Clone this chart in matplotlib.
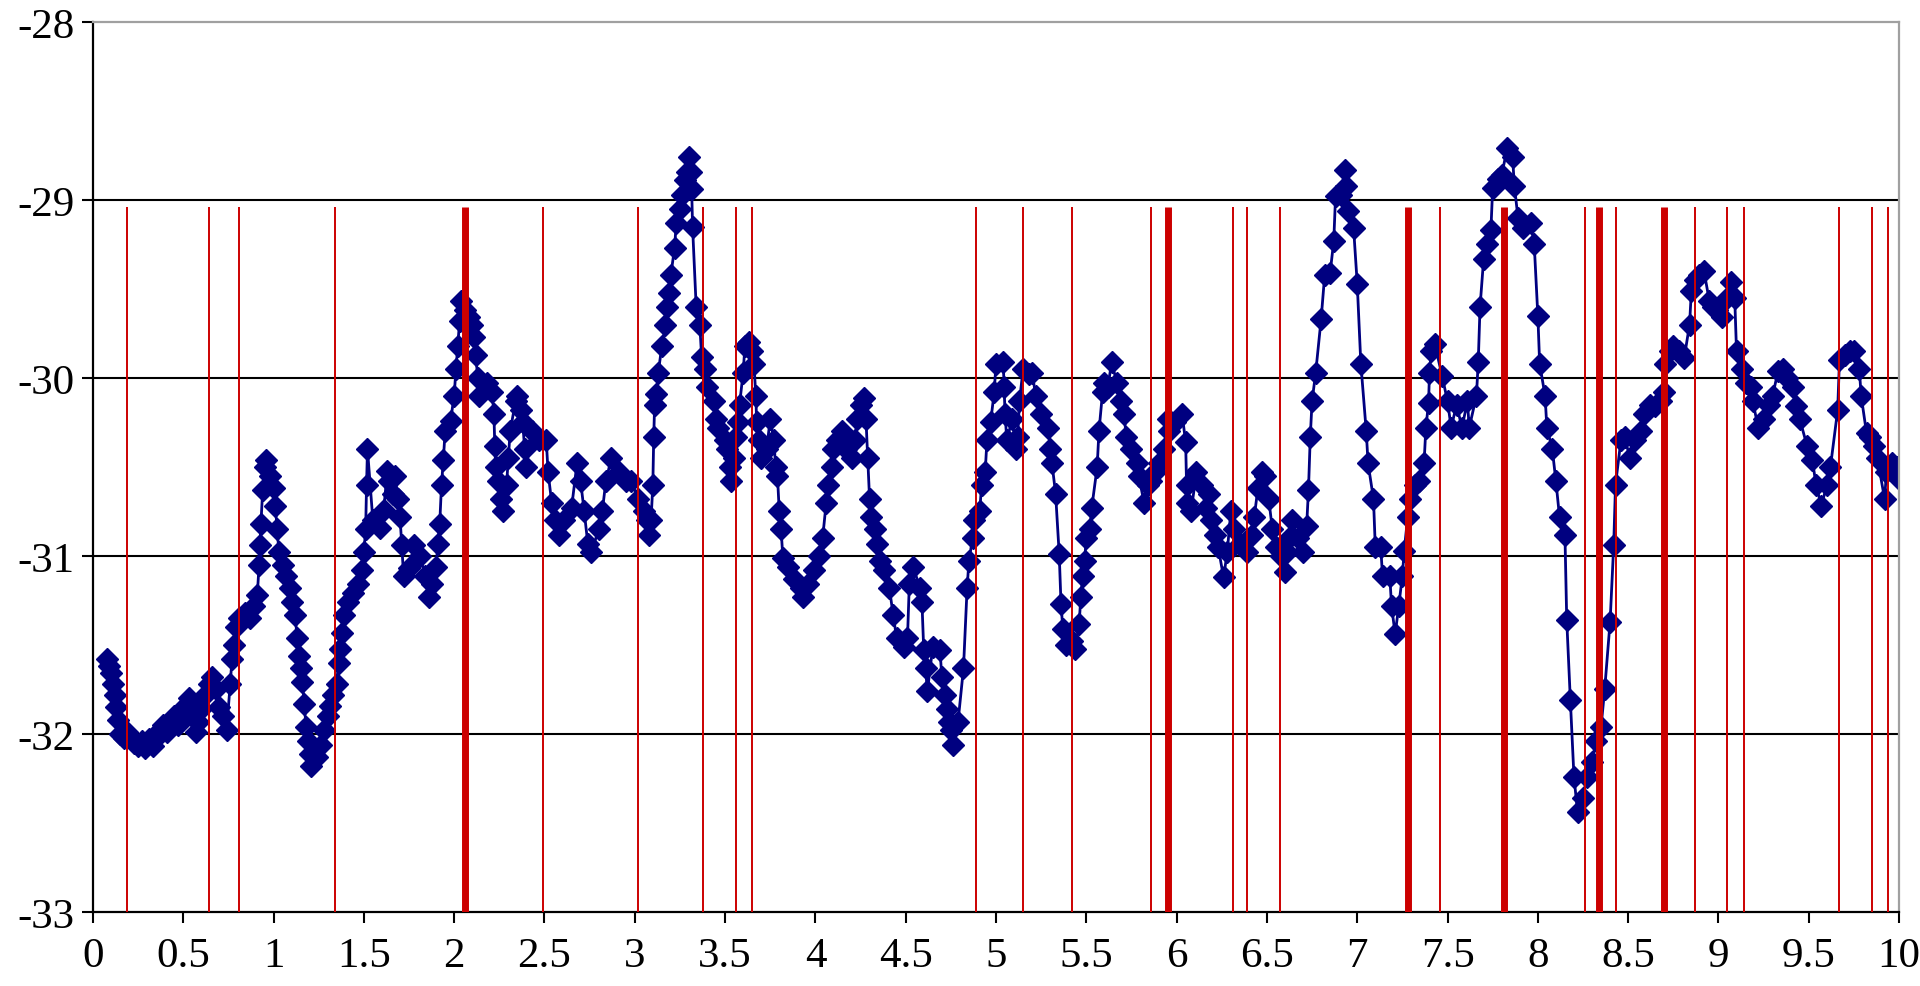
import matplotlib
matplotlib.use("Agg")
import matplotlib.pyplot as plt
from matplotlib.ticker import FuncFormatter

plt.rcParams['font.family'] = ['Liberation Serif', 'DejaVu Serif']
plt.rcParams['axes.unicode_minus'] = False

# measured series
dist = [
    0.08, 0.09, 0.10, 0.11, 0.12, 0.13, 0.14, 0.15, 0.17, 0.19,
    0.21, 0.23, 0.25, 0.27, 0.29, 0.31, 0.33, 0.35, 0.37, 0.39,
    0.41, 0.43, 0.45, 0.47, 0.49, 0.51, 0.53, 0.55, 0.57, 0.58,
    0.60, 0.62, 0.64, 0.66, 0.68, 0.70, 0.72, 0.74, 0.76, 0.77,
    0.78, 0.79, 0.81, 0.84, 0.87, 0.89, 0.91, 0.92, 0.925, 0.93,
    0.94, 0.95, 0.96, 0.98, 1.00, 1.01, 1.02, 1.03, 1.05, 1.07,
    1.09, 1.10, 1.12, 1.13, 1.14, 1.15, 1.16, 1.17, 1.18, 1.19,
    1.20, 1.21, 1.24, 1.26, 1.28, 1.30, 1.31, 1.33, 1.35, 1.36,
    1.37, 1.38, 1.39, 1.41, 1.44, 1.47, 1.49, 1.50, 1.51, 1.515,
    1.52, 1.55, 1.59, 1.61, 1.63, 1.64, 1.66,
    1.67, 1.69, 1.70, 1.71, 1.72, 1.75, 1.78, 1.81, 1.84, 1.86,
    1.88, 1.90, 1.91, 1.92, 1.93, 1.94, 1.95, 1.98, 2.00, 2.01,
    2.02, 2.03, 2.04, 2.06, 2.08, 2.10, 2.11, 2.12, 2.13, 2.14,
    2.18, 2.21, 2.22, 2.225, 2.23, 2.24, 2.26, 2.27, 2.29, 2.30,
    2.31, 2.34, 2.35, 2.37, 2.38, 2.39, 2.40, 2.43, 2.47, 2.51,
    2.52, 2.54, 2.56, 2.58, 2.61, 2.65, 2.68, 2.70, 2.72, 2.74,
    2.76, 2.80, 2.82, 2.84, 2.87, 2.91, 2.95, 2.98, 3.02, 3.05,
    3.07, 3.08, 3.09, 3.10, 3.105, 3.11, 3.12, 3.13, 3.15, 3.17,
    3.18, 3.19, 3.20, 3.22, 3.23, 3.25, 3.26, 3.28, 3.29, 3.30,
    3.31, 3.315, 3.32,
    3.34, 3.36, 3.37, 3.39, 3.40, 3.44, 3.45, 3.46, 3.50, 3.51,
    3.53, 3.535, 3.55, 3.56, 3.57, 3.58, 3.60, 3.61, 3.63, 3.65,
    3.66, 3.67, 3.675, 3.69, 3.70, 3.73, 3.75, 3.77, 3.78, 3.79,
    3.80, 3.81, 3.82, 3.85, 3.88, 3.92, 3.93, 3.96, 3.99, 4.02,
    4.04, 4.06, 4.07, 4.09, 4.10, 4.12, 4.15, 4.17, 4.20, 4.22,
    4.23, 4.25, 4.27, 4.28, 4.29, 4.30, 4.31, 4.33, 4.34, 4.36,
    4.38, 4.41, 4.43, 4.45, 4.49, 4.51, 4.52, 4.54, 4.58, 4.59,
    4.60, 4.61, 4.62, 4.65, 4.69, 4.70, 4.72, 4.73, 4.74, 4.75,
    4.76, 4.79, 4.82, 4.84, 4.85, 4.87, 4.88, 4.91, 4.92, 4.94,
    4.95, 4.97, 4.99, 5.00, 5.04, 5.045, 5.05, 5.06,
    5.09, 5.11, 5.12, 5.13, 5.15, 5.18, 5.20, 5.22, 5.25, 5.29,
    5.30, 5.31, 5.33, 5.35, 5.36, 5.37, 5.39, 5.42, 5.44, 5.46,
    5.47, 5.48, 5.49, 5.50, 5.52, 5.53, 5.56, 5.57, 5.59, 5.60,
    5.62, 5.64, 5.67, 5.69, 5.71, 5.72, 5.75, 5.78, 5.79, 5.82,
    5.84, 5.86, 5.88, 5.90, 5.93, 5.95, 5.96, 5.99, 6.03, 6.05,
    6.055, 6.06, 6.08, 6.11, 6.14, 6.16, 6.18, 6.19, 6.21, 6.23,
    6.26, 6.28, 6.30, 6.32, 6.35, 6.39, 6.42, 6.43, 6.45, 6.47,
    6.49, 6.51, 6.53, 6.55, 6.58, 6.60, 6.61, 6.62, 6.64, 6.67,
    6.70, 6.72, 6.73, 6.74, 6.75, 6.77,
    6.80, 6.82, 6.85, 6.87, 6.88, 6.91, 6.93, 6.94, 6.95, 6.98,
    7.00, 7.02, 7.05, 7.06, 7.09, 7.10, 7.13, 7.14, 7.18, 7.19,
    7.21, 7.23, 7.25, 7.26, 7.28, 7.29, 7.32, 7.34, 7.37, 7.38,
    7.395, 7.40, 7.41, 7.43, 7.47, 7.50, 7.52, 7.55, 7.58, 7.61,
    7.62, 7.66, 7.67, 7.68, 7.70, 7.72, 7.74, 7.75, 7.78, 7.80,
    7.83, 7.86, 7.87, 7.89, 7.92, 7.96, 7.98, 8.00, 8.01, 8.04,
    8.05, 8.08, 8.10, 8.12, 8.15, 8.16, 8.18, 8.20, 8.22, 8.25,
    8.27, 8.30, 8.32, 8.35, 8.37, 8.40, 8.42, 8.43,
    8.46, 8.48, 8.51, 8.54, 8.57, 8.59, 8.62, 8.65, 8.68, 8.70,
    8.705, 8.73, 8.75, 8.78, 8.81, 8.84, 8.85, 8.87, 8.89, 8.92,
    8.95, 8.97, 8.99, 9.02, 9.05, 9.07, 9.09, 9.10, 9.13, 9.15,
    9.18, 9.19, 9.22, 9.25, 9.28, 9.30, 9.33, 9.36, 9.38, 9.41,
    9.43, 9.45, 9.49, 9.52, 9.54, 9.57, 9.60, 9.62, 9.66, 9.67,
    9.70, 9.73, 9.75, 9.78, 9.79, 9.82, 9.84, 9.86, 9.88, 9.92,
    9.93, 9.96, 9.99, 10.00,
]

level = [
    -31.58, -31.62, -31.66, -31.72, -31.78, -31.85, -31.92, -32.00, -32.02, -31.99,
    -32.03, -32.05, -32.07, -32.04, -32.08, -32.03, -32.07, -32.02, -31.98, -31.95,
    -31.99, -31.93, -31.90, -31.95, -31.88, -31.84, -31.80, -31.90, -31.99, -31.93,
    -31.86, -31.78, -31.72, -31.68, -31.75, -31.85, -31.90, -31.98, -31.72, -31.58,
    -31.50, -31.40, -31.35, -31.32, -31.35, -31.28, -31.22, -31.05, -30.94, -30.82,
    -30.63, -30.50, -30.46, -30.55, -30.62, -30.72, -30.85, -30.98, -31.05, -31.11,
    -31.18, -31.26, -31.33, -31.46, -31.56, -31.63, -31.71, -31.83, -31.96, -32.04,
    -32.11, -32.18, -32.13, -32.06, -31.98, -31.90, -31.84, -31.78, -31.72, -31.60,
    -31.52, -31.43, -31.33, -31.26, -31.21, -31.16, -31.08, -30.98, -30.85, -30.60,
    -30.40, -30.80, -30.84, -30.74, -30.52, -30.58, -30.65,
    -30.55, -30.68, -30.78, -30.94, -31.11, -31.07, -30.94, -31.00, -31.11, -31.23,
    -31.16, -31.06, -30.93, -30.82, -30.60, -30.46, -30.30, -30.24, -30.10, -29.95,
    -29.82, -29.68, -29.57, -29.62, -29.66, -29.70, -29.77, -29.87, -30.00, -30.10,
    -30.03, -30.08, -30.20, -30.38, -30.50, -30.58, -30.68, -30.75, -30.60, -30.45,
    -30.30, -30.13, -30.10, -30.18, -30.25, -30.40, -30.50, -30.30, -30.35, -30.35,
    -30.53, -30.70, -30.80, -30.88, -30.80, -30.73, -30.48, -30.58, -30.75, -30.93,
    -30.98, -30.85, -30.75, -30.58, -30.45, -30.53, -30.58, -30.58, -30.68, -30.75,
    -30.80, -30.88, -30.80, -30.60, -30.33, -30.15, -30.09, -29.97, -29.82, -29.70,
    -29.60, -29.52, -29.42, -29.27, -29.13, -29.05, -28.97, -28.89, -28.84, -28.76,
    -28.84, -28.94, -29.15,
    -29.60, -29.70, -29.88, -29.95, -30.05, -30.13, -30.23, -30.28, -30.35, -30.40,
    -30.50, -30.58, -30.45, -30.33, -30.25, -30.15, -29.97, -29.82, -29.80, -29.85,
    -29.92, -30.10, -30.25, -30.35, -30.45, -30.40, -30.23, -30.35, -30.50, -30.55,
    -30.75, -30.85, -31.01, -31.06, -31.13, -31.18, -31.23, -31.16, -31.08, -31.00,
    -30.90, -30.70, -30.60, -30.50, -30.40, -30.35, -30.30, -30.40, -30.45, -30.35,
    -30.23, -30.15, -30.11, -30.23, -30.45, -30.68, -30.78, -30.85, -30.93, -31.03,
    -31.08, -31.18, -31.33, -31.46, -31.51, -31.46, -31.16, -31.06, -31.18, -31.26,
    -31.53, -31.63, -31.76, -31.51, -31.53, -31.68, -31.78, -31.86, -31.93, -31.98,
    -32.06, -31.93, -31.63, -31.18, -31.03, -30.90, -30.80, -30.75, -30.60, -30.53,
    -30.35, -30.25, -30.08, -29.92, -29.91, -30.05, -30.20, -30.35,
    -30.23, -30.40, -30.33, -30.13, -29.95, -29.98, -29.97, -30.10, -30.20, -30.28,
    -30.40, -30.48, -30.65, -30.99, -31.27, -31.41, -31.50, -31.48, -31.52, -31.38,
    -31.23, -31.11, -31.03, -30.90, -30.85, -30.73, -30.50, -30.30, -30.08, -30.03,
    -30.05, -29.91, -30.03, -30.13, -30.20, -30.33, -30.40, -30.48, -30.55, -30.70,
    -30.60, -30.58, -30.53, -30.48, -30.40, -30.23, -30.30, -30.25, -30.20, -30.36,
    -30.60, -30.70, -30.75, -30.53, -30.60, -30.73, -30.65, -30.80, -30.88, -30.95,
    -31.12, -30.98, -30.75, -30.85, -30.93, -30.98, -30.88, -30.78, -30.62, -30.53,
    -30.55, -30.68, -30.85, -30.95, -31.00, -31.09, -30.98, -30.90, -30.80, -30.90,
    -30.98, -30.83, -30.63, -30.33, -30.13, -29.97,
    -29.67, -29.42, -29.41, -29.23, -28.98, -28.97, -28.83, -28.92, -29.06, -29.16,
    -29.47, -29.92, -30.30, -30.48, -30.68, -30.95, -30.95, -31.11, -31.11, -31.28,
    -31.44, -31.28, -31.11, -30.97, -30.78, -30.68, -30.60, -30.58, -30.48, -30.28,
    -30.14, -29.97, -29.85, -29.81, -29.99, -30.13, -30.28, -30.15, -30.28, -30.13,
    -30.28, -30.10, -29.91, -29.60, -29.33, -29.25, -29.17, -28.93, -28.88, -28.86,
    -28.71, -28.76, -28.92, -29.10, -29.16, -29.13, -29.25, -29.65, -29.92, -30.10,
    -30.28, -30.40, -30.58, -30.78, -30.88, -31.36, -31.81, -32.24, -32.44, -32.36,
    -32.24, -32.16, -32.04, -31.96, -31.75, -31.37, -30.94, -30.60,
    -30.35, -30.33, -30.45, -30.35, -30.30, -30.20, -30.15, -30.16, -30.13, -30.08,
    -29.92, -29.85, -29.82, -29.85, -29.89, -29.70, -29.51, -29.45, -29.42, -29.40,
    -29.57, -29.60, -29.62, -29.66, -29.55, -29.46, -29.55, -29.85, -29.95, -30.03,
    -30.05, -30.13, -30.28, -30.23, -30.15, -30.10, -29.96, -29.95, -30.00, -30.05,
    -30.16, -30.23, -30.38, -30.46, -30.60, -30.72, -30.60, -30.50, -30.18, -29.90,
    -29.87, -29.85, -29.85, -29.95, -30.10, -30.31, -30.33, -30.38, -30.45, -30.68,
    -30.53, -30.48, -30.50, -30.57,
]

# event markers (thin) and clustered events (thick)
events = [0.19, 0.64, 0.81, 1.34, 2.49, 3.02, 3.38, 3.56, 3.65, 4.89, 5.15,
          5.42, 5.86, 6.31, 6.39, 6.57, 7.46, 8.26, 8.43, 8.87, 9.05, 9.14,
          9.67, 9.85, 9.94]
events_dense = [2.06, 5.95, 7.28, 7.81, 8.34, 8.70]
event_top = -29.04

y_ticks = [-33, -32, -31, -30, -29, -28]
grid_levels = [-32, -31, -30, -29]
x_ticks = [i * 0.5 for i in range(21)]

assert len(dist) == len(level)

fig = plt.figure(figsize=(19.2, 9.87), dpi=100)
ax = fig.add_axes([0.0484, 0.075, 0.9407, 0.9017])

for g in grid_levels:
    ax.axhline(g, color='black', lw=1.5, zorder=0.5)

ax.plot(dist, level, color='#000080', lw=2, marker='D', ms=11.5,
        mfc='#000080', mec='#000080', zorder=2)

ax.vlines(events, -33, event_top, color='#cc0000', lw=1.4, zorder=3)
ax.vlines(events_dense, -33, event_top, color='#cc0000', lw=5, zorder=3)

ax.set_xlim(0, 10)
ax.set_ylim(-33, -28)
ax.set_xticks(x_ticks)
ax.set_yticks(y_ticks)
fmt = FuncFormatter(lambda v, p: f'{v:g}')
ax.xaxis.set_major_formatter(fmt)
ax.yaxis.set_major_formatter(fmt)
ax.tick_params(axis='both', direction='out', length=8, width=1.5,
               labelsize=31, color='black')
ax.tick_params(axis='x', pad=10)
ax.tick_params(axis='y', pad=5)

for side in ['left', 'bottom']:
    ax.spines[side].set_color('black')
    ax.spines[side].set_linewidth(1.6)
for side in ['top', 'right']:
    ax.spines[side].set_color('#a0a0a0')
    ax.spines[side].set_linewidth(1.6)

fig.savefig('out.png', dpi=100)
